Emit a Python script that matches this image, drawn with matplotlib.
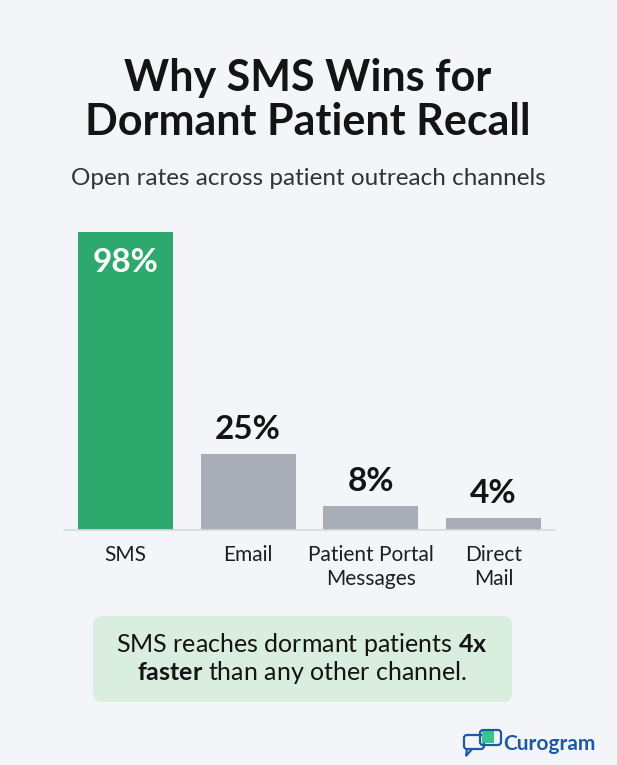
import matplotlib
matplotlib.use("Agg")
import matplotlib.pyplot as plt
from matplotlib.patches import FancyBboxPatch, Rectangle, Polygon

# ── data ──────────────────────────────────────
channels = ["SMS", "Email", "Patient Portal\nMessages", "Direct\nMail"]
open_rates = [98, 25, 8, 4]
value_labels = ["98%", "25%", "8%", "4%"]

title = "Why SMS Wins for\nDormant Patient Recall"
subtitle = "Open rates across patient outreach channels"

BG = "#f3f5f9"
GREEN = "#2ea96d"
GRAY = "#a9adb6"
INK = "#141414"
BLUE = "#1d5aa6"

plt.rcParams["font.family"] = ["Lato", "DejaVu Sans"]

W, H = 617, 765
fig = plt.figure(figsize=(W / 100, H / 100), dpi=100, facecolor=BG)

# overlay in pixel coordinates for titles, callout and logo
ov = fig.add_axes([0, 0, 1, 1], zorder=0)
ov.set_xlim(0, W)
ov.set_ylim(H, 0)
ov.axis("off")

ov.text(308, 100, title, ha="center", va="center", fontsize=31,
        fontweight="bold", color=INK, linespacing=1.12)
ov.text(308, 178, subtitle, ha="center", va="center", fontsize=17.5,
        fontweight="normal", color="#333333")

# ── bar chart ─────────────────────────────────
ax = fig.add_axes([64 / W, 1 - 530 / H, (555 - 64) / W, 304 / H], zorder=1)
ax.set_facecolor("none")
colors = [GREEN] + [GRAY] * (len(channels) - 1)
bars = ax.bar(range(len(channels)), open_rates, width=0.775, color=colors)
ax.set_xlim(-0.5, 3.5)
ax.set_ylim(0, 100)

for i, (b, lab) in enumerate(zip(bars, value_labels)):
    x = b.get_x() + b.get_width() / 2
    if i == 0:
        ax.annotate(lab, (x, b.get_height()), xytext=(0, -22), textcoords="offset points",
                    ha="center", va="center", fontsize=24, fontweight="bold", color="white")
    else:
        ax.annotate(lab, (x, b.get_height()), xytext=(0, 7), textcoords="offset points",
                    ha="center", va="bottom", fontsize=24, fontweight="bold", color=INK)

ax.set_xticks(range(len(channels)))
ax.set_xticklabels(channels, fontsize=15, color="#1e1e1e", linespacing=1.25, va="top")
ax.tick_params(axis="x", length=0, pad=11)
ax.set_yticks([])
for s in ["top", "left", "right"]:
    ax.spines[s].set_visible(False)
ax.spines["bottom"].set_color("#d6d9df")
ax.spines["bottom"].set_linewidth(1.2)

# ── callout box ───────────────────────────────
ov.add_patch(FancyBboxPatch((93, 616), 419, 86, boxstyle="round,pad=0,rounding_size=9",
                            facecolor="#d9eedf", edgecolor="none"))
plt.rcParams["mathtext.fontset"] = "custom"
plt.rcParams["mathtext.rm"] = "Lato"
plt.rcParams["mathtext.bf"] = "Lato:bold"
ov.text(302, 645, r"SMS reaches dormant patients $\mathbf{4x}$", ha="center", va="center",
        fontsize=18, color=INK)
ov.text(302, 673, r"$\mathbf{faster}$ than any other channel.", ha="center", va="center",
        fontsize=18, color=INK)

# ── logo ──────────────────────────────────────
ov.add_patch(FancyBboxPatch((464, 735), 20, 14, boxstyle="round,pad=0,rounding_size=3",
                            facecolor="none", edgecolor=BLUE, lw=1.6))
ov.add_patch(Polygon([[467, 749], [466, 756], [472, 749]], closed=False, fill=False,
                     edgecolor=BLUE, lw=1.6))
ov.add_patch(Rectangle((482, 731), 12, 12, facecolor="#3fc28a", edgecolor="none"))
ov.add_patch(FancyBboxPatch((480, 730), 21, 15, boxstyle="round,pad=0,rounding_size=3",
                            facecolor="none", edgecolor=BLUE, lw=1.6))
ov.text(503, 744, "Curogram", ha="left", va="center", fontsize=15,
        fontweight="bold", color=BLUE)

fig.savefig("out.png", dpi=100, facecolor=BG)
